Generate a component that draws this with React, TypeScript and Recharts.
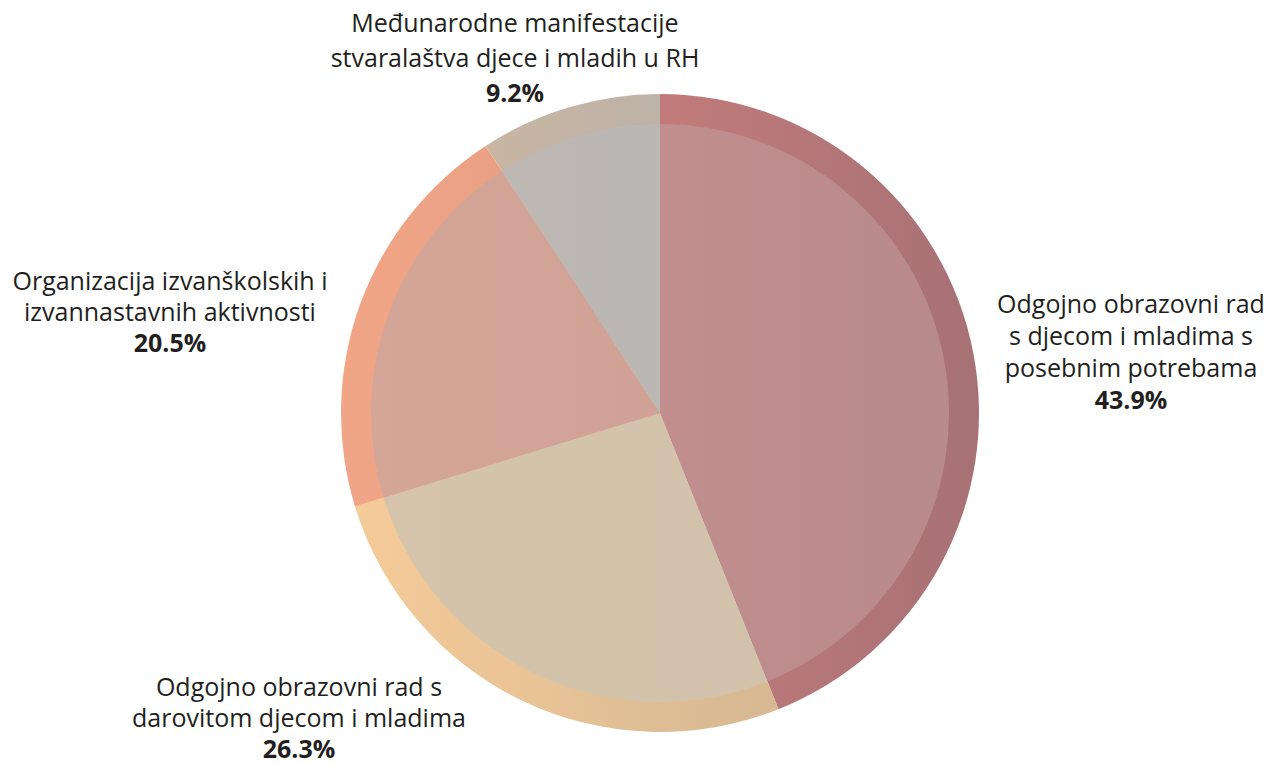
import React from "react";
import { PieChart, Pie, Cell } from "recharts";

const categories = [
  ["Odgojno obrazovni rad", "s djecom i mladima s", "posebnim potrebama"],
  ["Odgojno obrazovni rad s", "darovitom djecom i mladima"],
  ["Organizacija izvanškolskih i", "izvannastavnih aktivnosti"],
  ["Međunarodne manifestacije", "stvaralaštva djece i mladih u RH"],
];
const values = [43.9, 26.3, 20.5, 9.2];
const percentLabels = ["43.9%", "26.3%", "20.5%", "9.2%"];

const data = values.map((v, i) => ({ name: categories[i].join(" "), value: v, pct: percentLabels[i], lines: categories[i] }));

const outerGrad = [
  ["#c27b7a", "#a77176"],
  ["#f5cb98", "#d6b893"],
  ["#f0a686", "#e49a80"],
  ["#c9b6a3", "#bdb2a8"],
];
const innerGrad = [
  ["#c28e8f", "#b78a8c"],
  ["#d5c4ab", "#d2c2ab"],
  ["#d4a698", "#d0a295"],
  ["#bdb8b4", "#bbb7b4"],
];

const labelOffsets = [
  [471, -110, 32],
  [-361, 273, 31],
  [-490, -133, 31],
  [-145, -391, 35],
];

const renderLabel = (props: any) => {
  const { cx, cy, index } = props;
  const d = data[index];
  const [dx, dy, lh] = labelOffsets[index];
  const x = cx + dx;
  const y0 = cy + dy;
  return (
    <text
      key={"lbl" + index}
      x={x}
      y={y0}
      textAnchor="middle"
      dominantBaseline="central"
      fill="#231f20"
      style={{ fontFamily: "'Open Sans', sans-serif", fontSize: 25 }}
    >
      {d.lines.map((l: string, i: number) => (
        <tspan key={i} x={x} y={y0 + i * lh}>
          {l}
        </tspan>
      ))}
      <tspan x={x} y={y0 + d.lines.length * lh} fontWeight="bold">
        {d.pct}
      </tspan>
    </text>
  );
};

export default function App() {
  return (
    <div style={{ position: "absolute", left: 0, top: 0 }}>
      <PieChart width={1270} height={765} margin={{ top: 0, right: 0, bottom: 0, left: 0 }}>
        <defs>
          {outerGrad.map((c, i) => (
            <linearGradient key={"o" + i} id={"og" + i} x1="0" y1="0" x2="1" y2="0">
              <stop offset="0%" stopColor={c[0]} />
              <stop offset="100%" stopColor={c[1]} />
            </linearGradient>
          ))}
          {innerGrad.map((c, i) => (
            <linearGradient key={"i" + i} id={"ig" + i} x1="0" y1="0" x2="1" y2="0">
              <stop offset="0%" stopColor={c[0]} />
              <stop offset="100%" stopColor={c[1]} />
            </linearGradient>
          ))}
        </defs>
        <Pie
          data={data}
          dataKey="value"
          cx={660}
          cy={413}
          outerRadius={319}
          innerRadius={0}
          startAngle={90}
          endAngle={-270}
          stroke="none"
          isAnimationActive={false}
          labelLine={false}
          label={renderLabel}
        >
          {data.map((_, i) => (
            <Cell key={i} fill={`url(#og${i})`} />
          ))}
        </Pie>
        <Pie
          data={data}
          dataKey="value"
          cx={660}
          cy={413}
          outerRadius={289}
          innerRadius={0}
          startAngle={90}
          endAngle={-270}
          stroke="none"
          isAnimationActive={false}
          labelLine={false}
          label={false}
        >
          {data.map((_, i) => (
            <Cell key={i} fill={`url(#ig${i})`} />
          ))}
        </Pie>
      </PieChart>
    </div>
  );
}
